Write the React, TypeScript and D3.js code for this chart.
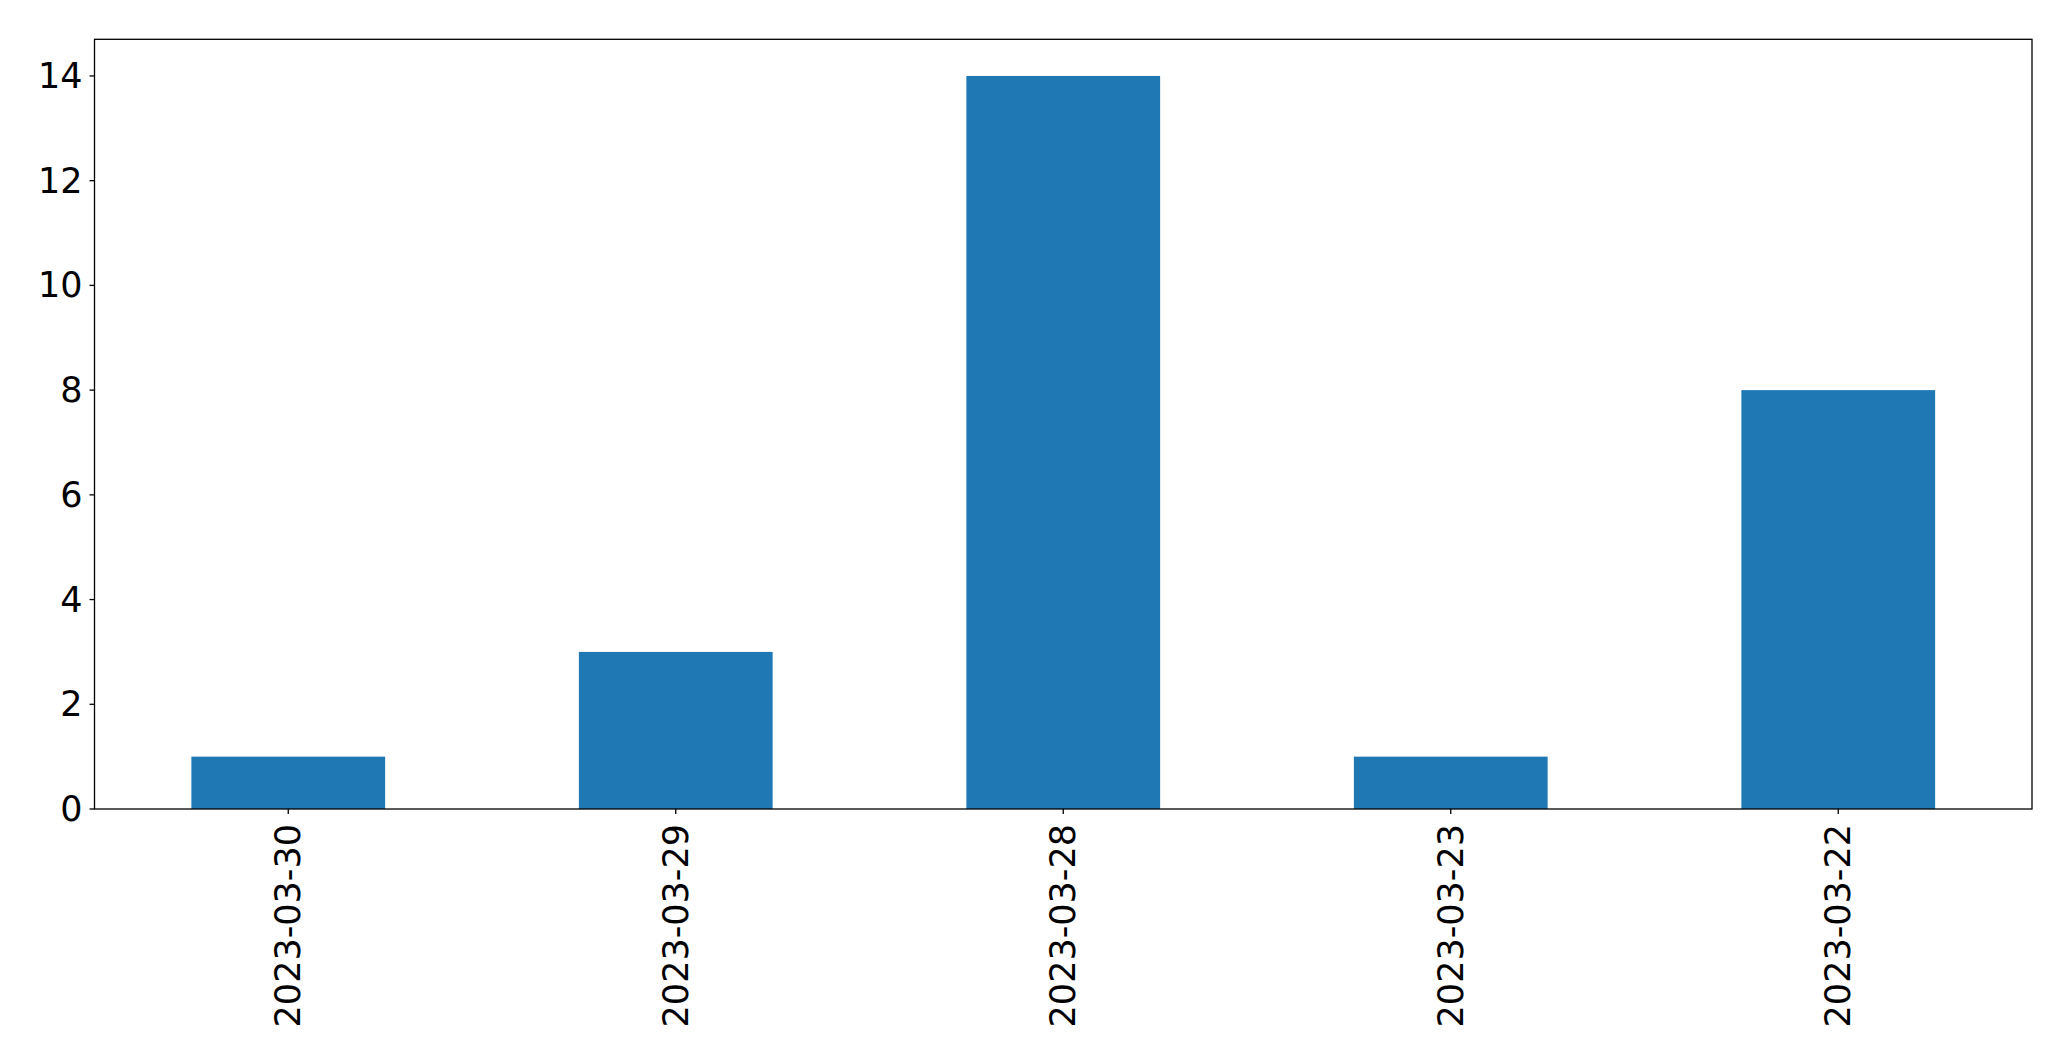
import React from "react";
import * as d3 from "d3";

const categories = ["2023-03-30", "2023-03-29", "2023-03-28", "2023-03-23", "2023-03-22"];
const counts = [1, 3, 14, 1, 8];
const yTicks = [0, 2, 4, 6, 8, 10, 12, 14];

const W = 2071, H = 1061;
const M = { left: 94.5, right: 2032, top: 39.3, bottom: 809 };
const FONT = "'DejaVu Sans', sans-serif";
const FS = 35;

export default function App() {
  const x = d3.scaleLinear().domain([-0.5, categories.length - 0.5]).range([M.left, M.right]);
  const y = d3.scaleLinear().domain([0, 14.7]).range([M.bottom, M.top]);
  const bw = x(0.25) - x(0);
  return (
    <svg width={W} height={H} style={{ position: "absolute", left: 0, top: 0, background: "#fff" }}>
      <rect x={0} y={0} width={W} height={H} fill="#fff" />
      {categories.map((c, i) => (
        <rect key={c} x={x(i) - bw} y={y(counts[i])} width={bw * 2} height={y(0) - y(counts[i])} fill="#1f77b4" />
      ))}
      <rect x={M.left} y={M.top} width={M.right - M.left} height={M.bottom - M.top} fill="none" stroke="#000" strokeWidth={1.3} />
      {yTicks.map((t) => (
        <g key={t}>
          <line x1={M.left - 5} x2={M.left} y1={y(t)} y2={y(t)} stroke="#000" strokeWidth={1.3} />
          <text x={M.left - 12} y={y(t)} textAnchor="end" dominantBaseline="central" fontFamily={FONT} fontSize={FS} fill="#000">{t}</text>
        </g>
      ))}
      {categories.map((c, i) => (
        <g key={c}>
          <line x1={x(i)} x2={x(i)} y1={M.bottom} y2={M.bottom + 5} stroke="#000" strokeWidth={1.3} />
          <text transform={`translate(${x(i)},${M.bottom + 15}) rotate(-90)`} textAnchor="end" dominantBaseline="central" fontFamily={FONT} fontSize={FS} fill="#000">{c}</text>
        </g>
      ))}
    </svg>
  );
}
